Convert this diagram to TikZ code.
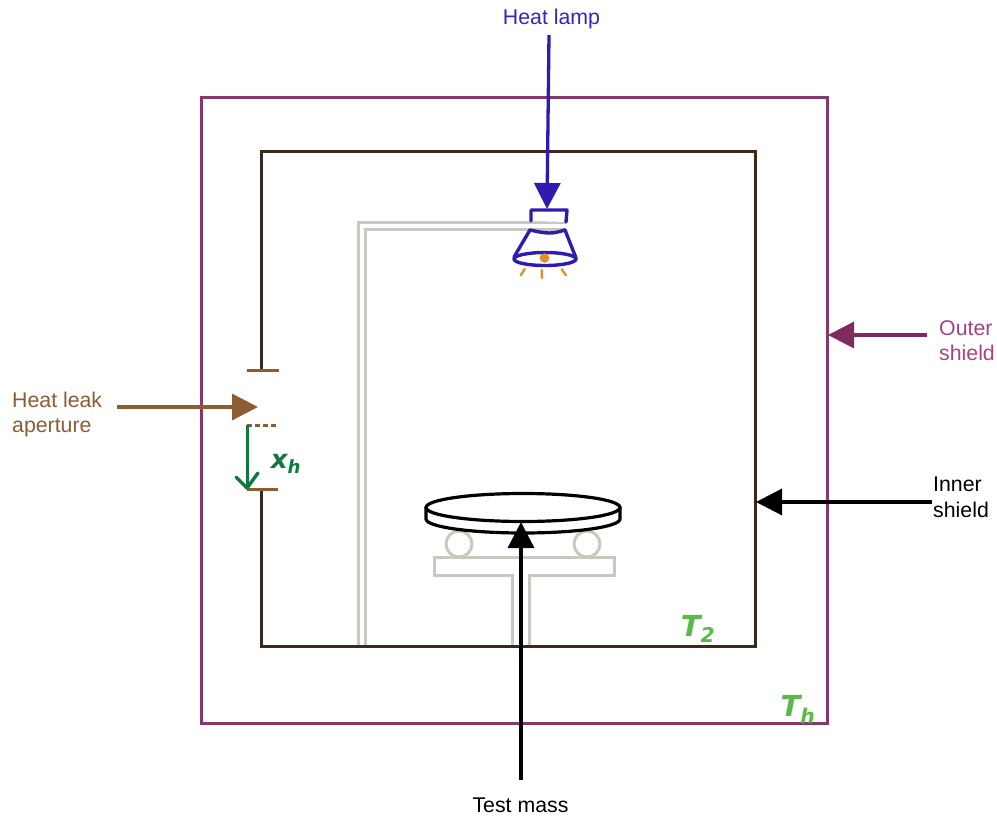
\documentclass[tikz,border=0pt]{standalone}
\usepackage{fontspec}
\setmainfont{Liberation Sans}
\newfontfamily\handfont{DejaVu Sans}
\usetikzlibrary{arrows.meta}
\definecolor{outerc}{HTML}{84386E}
\definecolor{outertxt}{HTML}{A5447F}
\definecolor{outerarr}{HTML}{7F2A60}
\definecolor{innerc}{HTML}{3B2A1A}
\definecolor{leakc}{HTML}{8D5C33}
\definecolor{lampc}{HTML}{2E1BB0}
\definecolor{lamptxt}{HTML}{3A22C0}
\definecolor{greyc}{HTML}{C8C8BE}
\definecolor{gapc}{HTML}{0F7A40}
\definecolor{tempc}{HTML}{5CB848}
\definecolor{glowc}{HTML}{E09030}
\tikzset{
  lbl/.style={font=\fontsize{21.3}{25.5}\selectfont,inner sep=0pt,align=left},
  bigarrow/.style={line width=3.3pt,-{Triangle[length=26pt,width=26pt]},shorten >=-1pt},
  pipe/.style={draw=greyc,line width=3pt},
  lampline/.style={draw=lampc,line width=3.4pt,line cap=round,line join=round},
  ray/.style={draw=glowc,line width=2.4pt,line cap=round},
  hand/.style={inner sep=0pt,text=tempc,font=\handfont\bfseries\itshape},
}
\begin{document}
\begin{tikzpicture}[x=1pt,y=-1pt]
\useasboundingbox (0,0) rectangle (997,816);
% shields
\node[draw=outerc,line width=3pt,minimum width=626pt,minimum height=625pt,inner sep=0pt] (outer) at (514.5,410.5) {};
\coordinate (gtop) at (261,370);
\coordinate (gbot) at (261,489);
\draw[innerc,line width=3pt,line join=miter] (gtop) -- (261,151) -- (755.5,151) -- (755.5,646) -- (261,646) -- (gbot);
% grey pipes
\draw[pipe] (358,645) -- (358,222) -- (566,222);
\draw[pipe] (365,645) -- (365,229) -- (566,229);
% support
\draw[pipe] (512,645) -- (512,575) -- (434,575) -- (434,557) -- (614,557) -- (614,575) -- (529,575) -- (529,645);
\node[draw=greyc,line width=3pt,circle,minimum size=26pt,inner sep=0pt] (ballL) at (459,544) {};
\node[draw=greyc,line width=3pt,circle,minimum size=26pt,inner sep=0pt] (ballR) at (587,544) {};
% test mass disc
\draw[black,line width=3.2pt,fill=white] (426,507) -- (426,519) arc[start angle=180,end angle=360,x radius=97,y radius=-14] -- (620,507);
\draw[black,line width=3.2pt,fill=white] (523,507.5) ellipse[x radius=97,y radius=14];
% lamp
\draw[lampline,fill=white] (531,221) -- (531,210) -- (567,210) -- (566,222);
\draw[lampline] (530,230) .. controls (548,234) and (552,234) .. (565,230);
\draw[lampline] (530,230) -- (514,257);
\draw[lampline] (565,230) -- (576,258);
\draw[lampline] (545,259) ellipse[x radius=31,y radius=6.5];
\fill[glowc] (544.5,258) circle[radius=4.8];
\draw[ray] (524.7,269) -- (520.7,275.3);
\draw[ray] (541.7,270) -- (542,278);
\draw[ray] (561.7,269.3) -- (566,275.3);
% aperture
\draw[leakc,line width=3pt] (247,370) -- (279,370);
\draw[leakc,line width=3pt] (247,489) -- (278,489);
\coordinate (apA) at (247,425);
\coordinate (apB) at (247,488);
\draw[leakc,line width=3pt,dash pattern=on 5pt off 3pt] (apA) -- (278,425);
\draw[gapc,line width=3pt] (apA) -- (apB);
\draw[gapc,line width=3.4pt,line cap=round,line join=round] (236,477) -- (apB) -- (258,473);
\node[hand,text=gapc,font=\handfont\bfseries\itshape\fontsize{26}{26}\selectfont] (xh) at (286,464) {x\textsubscript{h}};
% temperature labels
\node[hand,font=\handfont\bfseries\itshape\fontsize{29}{29}\selectfont] (tz) at (698,629) {T\textsubscript{2}};
\node[hand,font=\handfont\bfseries\itshape\fontsize{29}{29}\selectfont] (th) at (798,709) {T\textsubscript{h}};
% labels and arrows
\node[lbl,text=lamptxt,anchor=center] (lamp) at (551.5,19) {Heat lamp};
\node[lbl,text=leakc,anchor=north west] (leak) at (12,391.5) {Heat leak\\aperture};
\node[lbl,text=outertxt,anchor=north west] (outerlbl) at (939,320) {Outer\\shield};
\node[lbl,anchor=north west] (innerlbl) at (933,477) {Inner\\shield};
\node[lbl,anchor=center] (masslbl) at (520.5,805.5) {Test mass};
\coordinate (lampS) at (549,35);
\coordinate (lampE) at (547,208);
\coordinate (leakS) at (117,407);
\coordinate (leakE) at (257,407);
\coordinate (outS) at (927,335);
\coordinate (outE) at (829,335);
\coordinate (innS) at (932,502);
\coordinate (innE) at (757,502);
\coordinate (masS) at (521,780);
\coordinate (masE) at (521,523);
\draw[bigarrow,lampc] (lampS) -- (lampE);
\draw[bigarrow,leakc] (leakS) -- (leakE);
\draw[bigarrow,outerarr] (outS) -- (outE);
\draw[bigarrow,black] (innS) -- (innE);
\draw[bigarrow,black] (masS) -- (masE);
\end{tikzpicture}
\end{document}
